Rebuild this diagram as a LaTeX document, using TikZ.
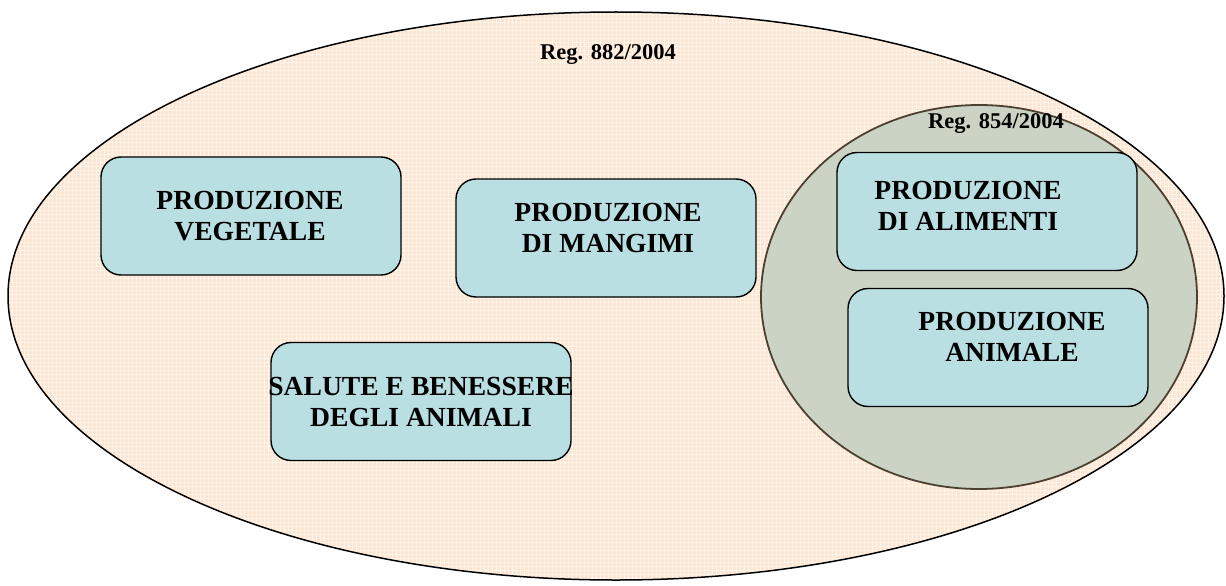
\documentclass[tikz,border=0pt]{standalone}
\usepackage{fontspec}
\setmainfont{Liberation Serif}
\begin{document}
\begin{tikzpicture}[x=1pt,y=-1pt,
  boxshape/.style={draw=black, line width=1.4pt, fill=boxfill, rounded corners=20pt,
    minimum width=300pt, minimum height=118pt, inner sep=0pt},
  boxtext/.style={align=center, font=\fontsize{27.6}{30.5}\selectfont\bfseries, inner sep=0pt},
  reglabel/.style={font=\fontsize{22.5}{25}\selectfont\bfseries, inner sep=0pt}]
\definecolor{peach}{HTML}{FCE5D2}
\definecolor{gridline}{HTML}{FFF4EA}
\definecolor{innerfill}{HTML}{CBD4C4}
\definecolor{innerline}{HTML}{4E4030}
\definecolor{boxfill}{HTML}{B9DFE2}
\useasboundingbox (0,0) rectangle (1226,586);
\fill[white] (0,0) rectangle (1226,586);

% outer region, Reg. 882/2004, with its fine woven texture
\fill[peach] (616,296) ellipse [x radius=608pt, y radius=284pt];
\begin{scope}
  \clip (616,296) ellipse [x radius=608pt, y radius=284pt];
  \foreach \gx in {8,12,...,1226} \draw[gridline, line width=0.9pt] (\gx,0) -- (\gx,586);
  \foreach \gy in {10,14,...,586} \draw[gridline, line width=0.9pt] (0,\gy) -- (1226,\gy);
\end{scope}
\draw[black, line width=1.5pt] (616,296) ellipse [x radius=608pt, y radius=284pt];
\node[reglabel] (reg882) at (608,55) {Reg. 882/2004};

% inner region, Reg. 854/2004
\fill[innerfill] (979,297) ellipse [x radius=218pt, y radius=192pt];
\draw[innerline, line width=1.8pt] (979,297) ellipse [x radius=218pt, y radius=192pt];
\node[reglabel] (reg854) at (996,124) {Reg. 854/2004};

% activity boxes
\node[boxshape] (vegetale) at (251,216) {};
\node[boxtext] (tvegetale) at (250,216) {PRODUZIONE\\VEGETALE};

\node[boxshape] (mangimi) at (606,238) {};
\node[boxtext] (tmangimi) at (608,228) {PRODUZIONE\\DI MANGIMI};

\node[boxshape] (salute) at (421,401.5) {};
\node[boxtext] (tsalute) at (421,402) {SALUTE E BENESSERE\\DEGLI ANIMALI};

\node[boxshape] (alimenti) at (987,211.5) {};
\node[boxtext] (talimenti) at (968,206) {PRODUZIONE\\DI ALIMENTI};

\node[boxshape] (animale) at (998,347.5) {};
\node[boxtext] (tanimale) at (1012,337) {PRODUZIONE\\ANIMALE};
\end{tikzpicture}
\end{document}
